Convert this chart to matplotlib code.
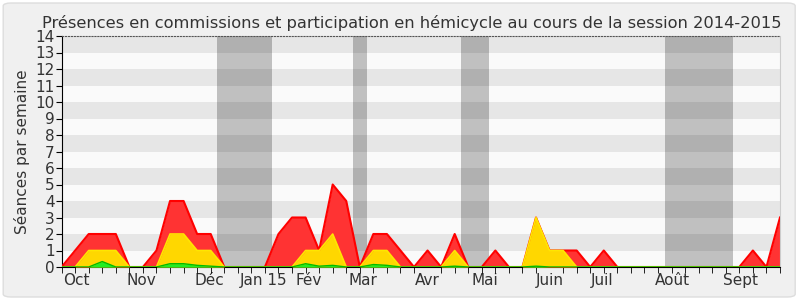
import matplotlib.pyplot as plt
from matplotlib.patches import FancyBboxPatch
import numpy as np

# weekly values, session 2014-2015 (54 weeks)
total = [0, 1, 2, 2, 2, 0, 0, 1, 4, 4, 2, 2, 0, 0, 0, 0, 2, 3, 3, 1,
         5, 4, 0, 2, 2, 1, 0, 1, 0, 2, 0, 0, 1, 0, 0, 3, 1, 1, 1, 0,
         1, 0, 0, 0, 0, 0, 0, 0, 0, 0, 0, 1, 0, 3]
commissions = [0, 0, 1, 1, 1, 0, 0, 0, 2, 2, 1, 1, 0, 0, 0, 0, 0, 0, 1, 1,
               2, 0, 0, 1, 1, 0, 0, 0, 0, 1, 0, 0, 0, 0, 0, 3, 1, 1, 0, 0,
               0, 0, 0, 0, 0, 0, 0, 0, 0, 0, 0, 0, 0, 0]
hemicycle = [0, 0, 0, 0.33, 0, 0, 0, 0, 0.2, 0.2, 0.1, 0.05, 0, 0, 0, 0, 0, 0, 0.2, 0.05,
             0.1, 0, 0, 0.15, 0.1, 0, 0, 0, 0, 0.05, 0, 0, 0, 0, 0, 0.05, 0, 0, 0, 0,
             0, 0, 0, 0, 0, 0, 0, 0, 0, 0, 0, 0, 0, 0]

months = ["Oct", "Nov", "Déc", "Jan 15", "Fév", "Mar", "Avr", "Mai", "Juin", "Juil", "Août", "Sept"]
month_weeks = [1.1, 5.9, 10.9, 14.9, 18.2, 22.2, 27.0, 31.2, 36.0, 39.9, 45.1, 50.1]
vacations = [(11.5, 15.5), (21.5, 22.5), (29.5, 31.5), (44.5, 49.5)]

plt.rcParams['font.family'] = 'DejaVu Sans'

fig = plt.figure(figsize=(8, 3), dpi=100)
fig.patch.set_facecolor('white')
fig.patches.append(FancyBboxPatch((0.004, 0.01), 0.99, 0.98, boxstyle="round,pad=0,rounding_size=0.01",
                                  transform=fig.transFigure, facecolor='#f0f0f0',
                                  edgecolor='#dddddd', linewidth=1, zorder=-10))
ax = fig.add_axes([0.077, 0.11, 0.898, 0.77])

weeks = np.arange(len(total))
ymax = 14

# alternating bands
for k in range(ymax):
    ax.axhspan(k, k + 1, color='#e6e6e6' if k % 2 else '#fafafa', zorder=0, lw=0)

for a, b in vacations:
    ax.axvspan(a, b, color='black', alpha=0.23, zorder=1, lw=0)

ax.fill_between(weeks, total, color='#ff3333', zorder=2, lw=0)
ax.plot(weeks, total, color='#ff0000', lw=1.5, zorder=3)
ax.fill_between(weeks, commissions, color='#ffd700', zorder=4, lw=0)
ax.plot(weeks, commissions, color='#ffe600', lw=1.2, zorder=5)
ax.fill_between(weeks, hemicycle, color='#22ee22', zorder=6, lw=0)
ax.plot(weeks, hemicycle, color='#00bb00', lw=1, zorder=7)

ax.set_xlim(0, len(total) - 1)
ax.set_ylim(0, ymax)
ax.set_yticks(range(ymax + 1))
ax.tick_params(axis='y', labelsize=11, length=4, pad=1, labelcolor='#333333')
ax.set_xticks(month_weeks)
ax.set_xticklabels(months)
ax.set_xticks(weeks, minor=True)
ax.tick_params(axis='x', which='major', length=0, labelsize=11, pad=4, labelcolor='#333333')
ax.tick_params(axis='x', which='minor', length=4)

ax.spines['right'].set_color('#cccccc')
ax.spines['top'].set_linestyle(':')
ax.spines['top'].set_color('#555555')
ax.set_ylabel("Séances par semaine", fontsize=11, labelpad=4, color='#333333')
ax.set_title("Présences en commissions et participation en hémicycle au cours de la session 2014-2015",
             fontsize=11.7, pad=6, color='#333333', x=0.488)

fig.savefig("out.png", dpi=100)
